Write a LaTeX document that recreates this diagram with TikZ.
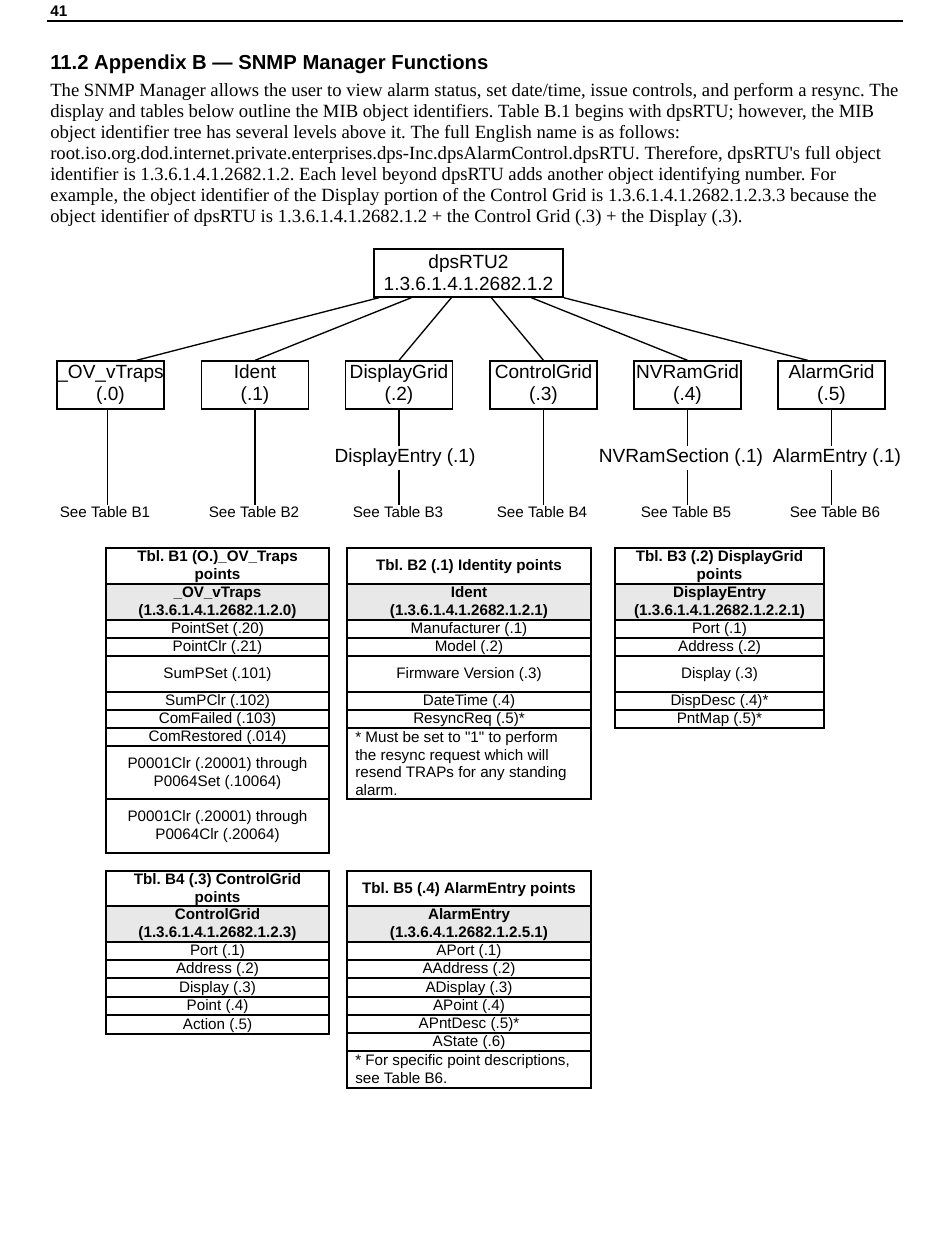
\documentclass[tikz,border=0pt]{standalone}
\usepackage{fontspec}
\setmainfont{Liberation Serif}[Ligatures=TeXOff]
\setsansfont{Liberation Sans}[Ligatures=TeXOff]
\usetikzlibrary{calc}
\frenchspacing

\tikzset{
  oidbox/.style={draw, line width=1pt, minimum width=80.25pt, minimum height=36pt,
    align=center, inner sep=0pt, font=\sffamily\fontsize{14.3}{16.5}\selectfont},
  midlbl/.style={inner sep=2pt, font=\sffamily\fontsize{14.3}{16.5}\selectfont},
  seelbl/.style={inner sep=1pt, font=\sffamily\fontsize{11.4}{13.5}\selectfont},
  cell/.style={align=center, inner sep=0pt, yshift=-0.6pt, font=\sffamily\fontsize{11.4}{13.5}\selectfont},
  notecell/.style={anchor=north west, align=left, inner sep=0pt, font=\sffamily\fontsize{11.4}{13.3}\selectfont},
  bodytxt/.style={anchor=base west, inner sep=0pt, font=\fontsize{14}{15.75}\selectfont},
  rule/.style={line width=0.8pt},
  treeline/.style={line width=1pt},
}

\begin{document}
\begin{tikzpicture}[x=0.75pt, y=-0.75pt]
  \useasboundingbox (0,0) rectangle (950,1254);

  % page head and text
  \node[anchor=base west, inner sep=0pt, font=\sffamily\bfseries\fontsize{11.5}{13}\selectfont] (pgno) at (50,16) {41};
  \draw[rule] (47,21) -- (903,21);
  \node[anchor=base west, inner sep=0pt, font=\sffamily\bfseries\fontsize{15.2}{18}\selectfont] (title) at (50,69)
    {11.2 Appendix B — SNMP Manager Functions};
  \foreach \ln [count=\i] in {
    {The SNMP Manager allows the user to view alarm status, set date/time, issue controls, and perform a resync. The},
    {display and tables below outline the MIB object identifiers. Table B.1 begins with dpsRTU; however, the MIB},
    {object identifier tree has several levels above it. The full English name is as follows:},
    {root.iso.org.dod.internet.private.enterprises.dps-Inc.dpsAlarmControl.dpsRTU. Therefore, dpsRTU's full object},
    {identifier is 1.3.6.1.4.1.2682.1.2. Each level beyond dpsRTU adds another object identifying number. For},
    {example, the object identifier of the Display portion of the Control Grid is 1.3.6.1.4.1.2682.1.2.3.3 because the},
    {object identifier of dpsRTU is 1.3.6.1.4.1.2682.1.2 + the Control Grid (.3) + the Display (.3).}}
    \node[bodytxt] (body\i) at (50,{75+21*\i}) {\ln};

  % tree
  \node[oidbox, minimum width=141.75pt] (root) at (468.5,273) {dpsRTU2\\1.3.6.1.4.1.2682.1.2};
  \node[oidbox] (c0) at (110.5,385) {\_OV\_vTraps\\(.0)};
  \node[oidbox] (c1) at (255,385) {Ident\\(.1)};
  \node[oidbox] (c2) at (399,385) {DisplayGrid\\(.2)};
  \node[oidbox] (c3) at (543.5,385) {ControlGrid\\(.3)};
  \node[oidbox] (c4) at (687.5,385) {NVRamGrid\\(.4)};
  \node[oidbox] (c5) at (831.5,385) {AlarmGrid\\(.5)};

  \draw[treeline] ($(root.south west)!0.03!(root.south east)$) -- ($(c0.north west)!0.74!(c0.north east)$);
  \draw[treeline] ($(root.south west)!0.2!(root.south east)$) -- (c1.north);
  \draw[treeline] ($(root.south west)!0.41!(root.south east)$) -- (c2.north);
  \draw[treeline] ($(root.south west)!0.62!(root.south east)$) -- (c3.north);
  \draw[treeline] ($(root.south west)!0.83!(root.south east)$) -- (c4.north);
  \draw[treeline] (root.south east) -- ($(c5.north west)!0.28!(c5.north east)$);

  \node[midlbl] (m2) at (405,458) {DisplayEntry (.1)};
  \node[midlbl] (m4) at (681,458) {NVRamSection (.1)};
  \node[midlbl] (m5) at (837,458) {AlarmEntry (.1)};

  \node[seelbl] (s0) at (105,512) {See Table B1};
  \node[seelbl] (s1) at (254,512) {See Table B2};
  \node[seelbl] (s2) at (398,512) {See Table B3};
  \node[seelbl] (s3) at (542,512) {See Table B4};
  \node[seelbl] (s4) at (686,512) {See Table B5};
  \node[seelbl] (s5) at (835,512) {See Table B6};

  \draw[rule] ([xshift=-2pt]c0.south) -- ([xshift=-2pt]c0.south |- s0.north);
  \draw[rule] (c1.south) -- (c1.south |- s1.north);
  \draw[rule] (c2.south) -- (c2.south |- m2.north);
  \draw[rule] (c2.south |- m2.south) -- (c2.south |- s2.north);
  \draw[rule] (c3.south) -- (c3.south |- s3.north);
  \draw[rule] (c4.south) -- (c4.south |- m4.north);
  \draw[rule] (c4.south |- m4.south) -- (c4.south |- s4.north);
  \draw[rule] (c5.south) -- (c5.south |- m5.north);
  \draw[rule] (c5.south |- m5.south) -- (c5.south |- s5.north);

  % Tbl. B1
  \fill[gray!18] (106,584) rectangle (329,620);
  \foreach \ya/\yb/\txt [count=\i] in {
    548/584/{\textbf{Tbl. B1 (O.)\_OV\_Traps}\\\textbf{points}},
    584/620/{\textbf{\_OV\_vTraps}\\\textbf{(1.3.6.1.4.1.2682.1.2.0)}},
    620/638/{PointSet (.20)}, 638/656/{PointClr (.21)}, 656/692/{SumPSet (.101)},
    692/710/{SumPClr (.102)}, 710/728/{ComFailed (.103)}, 728/746/{ComRestored (.014)},
    746/799/{P0001Clr (.20001) through\\P0064Set (.10064)},
    799/853/{P0001Clr (.20001) through\\P0064Clr (.20064)}}
  {
    \draw[rule] (106,\ya) rectangle (329,\yb);
    \node[cell] (ta\i) at (217.5,{(\ya+\yb)/2}) {\txt};
  }

  % Tbl. B2
  \fill[gray!18] (347,584) rectangle (591,620);
  \foreach \ya/\yb/\txt [count=\i] in {
    548/584/{\textbf{Tbl. B2 (.1) Identity points}},
    584/620/{\textbf{Ident}\\\textbf{(1.3.6.1.4.1.2682.1.2.1)}},
    620/638/{Manufacturer (.1)}, 638/656/{Model (.2)}, 656/692/{Firmware Version (.3)},
    692/710/{DateTime (.4)}, 710/728/{ResyncReq (.5)*}}
  {
    \draw[rule] (347,\ya) rectangle (591,\yb);
    \node[cell] (tb\i) at (469,{(\ya+\yb)/2}) {\txt};
  }
  \draw[rule] (347,728) rectangle (591,799);
  \node[notecell] (tbnote) at (355,731) {* Must be set to "1" to perform\\the resync request which will\\resend TRAPs for any standing\\alarm.};

  % Tbl. B3
  \fill[gray!18] (615,584) rectangle (824,620);
  \foreach \ya/\yb/\txt [count=\i] in {
    548/584/{\textbf{Tbl. B3 (.2) DisplayGrid}\\\textbf{points}},
    584/620/{\textbf{DisplayEntry}\\\textbf{(1.3.6.1.4.1.2682.1.2.2.1)}},
    620/638/{Port (.1)}, 638/656/{Address (.2)}, 656/692/{Display (.3)},
    692/710/{DispDesc (.4)*}, 710/728/{PntMap (.5)*}}
  {
    \draw[rule] (615,\ya) rectangle (824,\yb);
    \node[cell] (tc\i) at (719.5,{(\ya+\yb)/2}) {\txt};
  }

  % Tbl. B4
  \fill[gray!18] (106,906) rectangle (329,942);
  \foreach \ya/\yb/\txt [count=\i] in {
    871/906/{\textbf{Tbl. B4 (.3) ControlGrid}\\\textbf{points}},
    906/942/{\textbf{ControlGrid}\\\textbf{(1.3.6.1.4.1.2682.1.2.3)}},
    942/960/{Port (.1)}, 960/978/{Address (.2)}, 978/997/{Display (.3)},
    997/1015/{Point (.4)}, 1015/1034/{Action (.5)}}
  {
    \draw[rule] (106,\ya) rectangle (329,\yb);
    \node[cell] (td\i) at (217.5,{(\ya+\yb)/2}) {\txt};
  }

  % Tbl. B5
  \fill[gray!18] (347,906) rectangle (591,942);
  \foreach \ya/\yb/\txt [count=\i] in {
    871/906/{\textbf{Tbl. B5 (.4) AlarmEntry points}},
    906/942/{\textbf{AlarmEntry}\\\textbf{(1.3.6.4.1.2682.1.2.5.1)}},
    942/960/{APort (.1)}, 960/978/{AAddress (.2)}, 978/997/{ADisplay (.3)},
    997/1015/{APoint (.4)}, 1015/1033/{APntDesc (.5)*}, 1033/1051/{AState (.6)}}
  {
    \draw[rule] (347,\ya) rectangle (591,\yb);
    \node[cell] (te\i) at (469,{(\ya+\yb)/2}) {\txt};
  }
  \draw[rule] (347,1051) rectangle (591,1088);
  \node[notecell] (tenote) at (355,1054) {* For specific point descriptions,\\see Table B6.};
\end{tikzpicture}
\end{document}
